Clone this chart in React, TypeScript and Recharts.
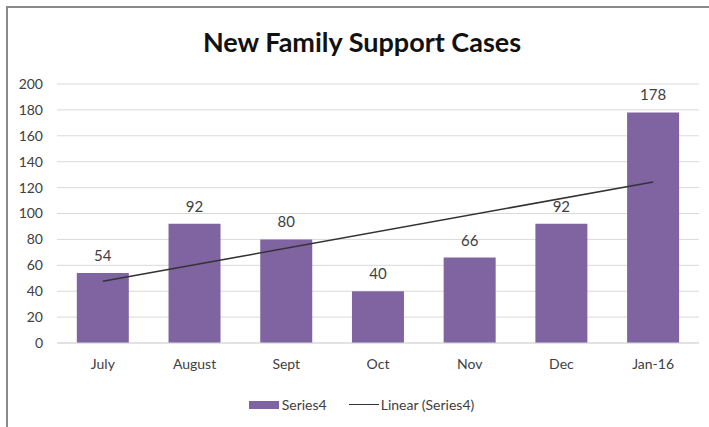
import {
  Bar,
  CartesianGrid,
  ComposedChart,
  LabelList,
  Legend,
  Line,
  XAxis,
  YAxis,
} from "recharts";

const months = ["July", "August", "Sept", "Oct", "Nov", "Dec", "Jan-16"];
const cases = [54, 92, 80, 40, 66, 92, 178];
// linear trend line at its two ends
const trend = [47.6, null, null, null, null, null, 124.4];
const yTicks = [0, 20, 40, 60, 80, 100, 120, 140, 160, 180, 200];

const font = "Lato, 'Open Sans', sans-serif";
const purple = "#8064a2";

const rows = months.map((m, i) => ({ month: m, cases: cases[i], trend: trend[i] }));

function LegendBox() {
  return (
    <div
      style={{
        display: "flex",
        justifyContent: "center",
        alignItems: "center",
        fontFamily: font,
        fontSize: 14,
        color: "#404040",
        paddingLeft: 16,
        paddingTop: 9,
      }}
    >
      <span style={{ width: 30, height: 8, background: purple, display: "inline-block" }} />
      <span style={{ marginLeft: 3 }}>Series4</span>
      <span
        style={{ width: 30, height: 0, borderTop: "1.5px solid #333", display: "inline-block", marginLeft: 22 }}
      />
      <span style={{ marginLeft: 2 }}>Linear (Series4)</span>
    </div>
  );
}

export default function App() {
  return (
    <div style={{ position: "absolute", left: 0, top: 0, width: 709, height: 427, overflow: "hidden", background: "#fff" }}>
      <div
        style={{
          position: "absolute",
          left: 6,
          top: 6,
          width: 720,
          height: 440,
          borderTop: "2px solid #8a8a8a",
          borderLeft: "2px solid #8a8a8a",
        }}
      />
      <div
        style={{
          position: "absolute",
          left: 0,
          top: 25,
          width: 724,
          textAlign: "center",
          fontFamily: font,
          fontWeight: "bold",
          fontSize: 27,
          color: "#111",
        }}
      >
        New Family Support Cases
      </div>
      <ComposedChart
        width={709}
        height={427}
        data={rows}
        margin={{ top: 84, right: 10, bottom: 10, left: 8 }}
        barCategoryGap="21.6%"
        style={{ position: "absolute", left: 0, top: 0 }}
      >
        <CartesianGrid vertical={false} stroke="#d9d9d9" />
        <XAxis
          dataKey="month"
          height={44}
          tickLine={false}
          tickSize={0}
          tickMargin={16}
          axisLine={{ stroke: "#d9d9d9" }}
          tick={{ fontFamily: font, fontSize: 14, fill: "#404040" }}
        />
        <YAxis
          width={49}
          domain={[0, 200]}
          ticks={yTicks}
          axisLine={false}
          tickLine={false}
          tickSize={0}
          tickMargin={14}
          tick={{ fontFamily: font, fontSize: 14, fill: "#404040" }}
        />
        <Bar dataKey="cases" fill={purple} isAnimationActive={false}>
          <LabelList
            dataKey="cases"
            position="top"
            offset={12}
            style={{ fontFamily: font, fontSize: 15, fill: "#404040" }}
          />
        </Bar>
        <Line
          dataKey="trend"
          stroke="#333"
          strokeWidth={1.5}
          dot={false}
          connectNulls
          isAnimationActive={false}
        />
        <Legend verticalAlign="bottom" height={30} content={() => <LegendBox />} />
      </ComposedChart>
    </div>
  );
}
